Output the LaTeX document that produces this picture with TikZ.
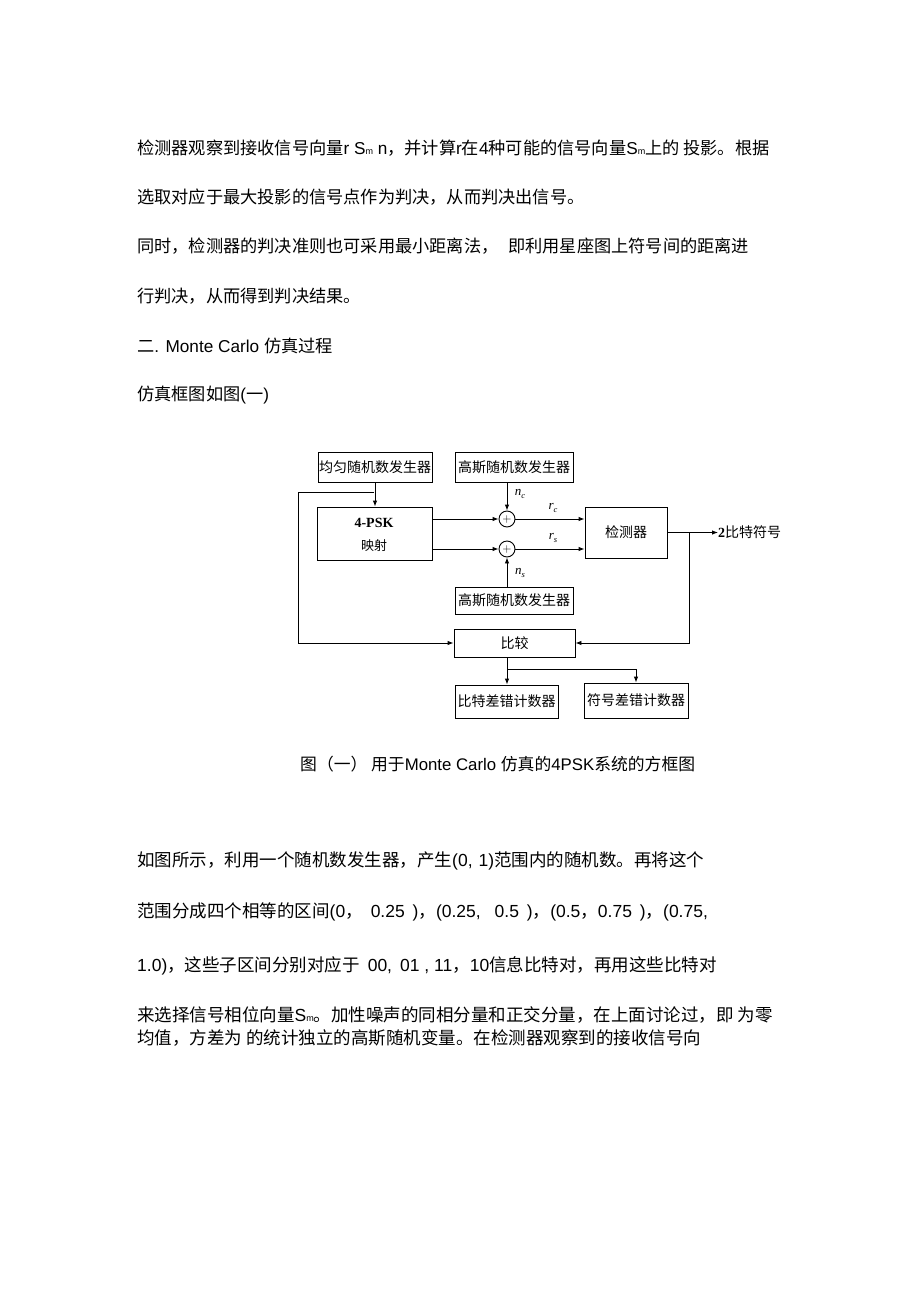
\documentclass[tikz,border=0pt]{standalone}
\usepackage{fontspec}
\setmainfont{Liberation Sans}
\newfontfamily\cjk{Noto Sans CJK SC}
\newfontfamily\latf{Liberation Sans}
\newfontfamily\serf{Liberation Serif}
\usetikzlibrary{arrows.meta}
\newcommand\lt[1]{{\latf #1}}
\newcommand\sm{{\latf\fontsize{9}{9}\selectfont m}}
\newcommand\vsub[2]{{\serf\itshape\fontsize{13}{14}\selectfont #1\raisebox{-2.5pt}{\fontsize{8.5}{9}\selectfont #2}}}
\begin{document}
\begin{tikzpicture}[x=1pt,y=-1pt,
  body/.style={anchor=west,inner sep=0pt,font=\cjk\fontsize{17.2}{20}\selectfont},
  lbody/.style={anchor=west,inner sep=0pt,font=\cjk\fontsize{17.5}{20}\selectfont},
  blk/.style={draw,line width=0.9pt,inner sep=0pt,font=\cjk\fontsize{14}{16}\selectfont},
  sumc/.style={draw,circle,line width=0.9pt,minimum size=16pt,inner sep=0pt},
  arr/.style={line width=0.9pt,-{Latex[length=6pt,width=4.5pt]}},
  lab/.style={inner sep=0pt}]
\fill[white] (0,0) rectangle (920,1303);
\useasboundingbox (0,0) rectangle (920,1303);

% ---- upper text ----
\node[body] (t1) at (137,148) {检测器观察到接收信号向量\lt{r S}\sm\lt{ n}，并计算\lt{r}在\lt{4}种可能的信号向量\lt{S}\sm 上的 投影。根据};
\node[body] (t2) at (137,197) {选取对应于最大投影的信号点作为判决，从而判决出信号。};
\node[body] (t3) at (137,246) {同时，检测器的判决准则也可采用最小距离法，\hspace{10pt}即利用星座图上符号间的距离进};
\node[body] (t4) at (137,296) {行判决，从而得到判决结果。};
\node[body] (t5) at (137,346) {二\lt{. Monte Carlo }仿真过程};
\node[body] (t6) at (137,395) {仿真框图如图\lt{(}一\lt{)}};

% ---- diagram ----
\node[blk,minimum width=114pt,minimum height=30pt] (U) at (375,467) {均匀随机数发生器};
\node[blk,minimum width=118pt,minimum height=30pt] (G1) at (514,467) {高斯随机数发生器};
\node[blk,minimum width=115pt,minimum height=53pt] (P) at (374.5,533.5) {};
\node[inner sep=0pt,font=\serf\bfseries\fontsize{14}{16}\selectfont] (Pt) at (374,523) {4-PSK};
\node[inner sep=0pt,font=\cjk\fontsize{13}{15}\selectfont] (Pm) at (374,546) {映射};
\node[blk,minimum width=82pt,minimum height=51pt] (D) at (626,532.5) {检测器};
\node[blk,minimum width=118pt,minimum height=27pt] (G2) at (514,600.5) {高斯随机数发生器};
\node[blk,minimum width=121pt,minimum height=28pt] (C) at (514.5,643) {比较};
\node[blk,minimum width=103pt,minimum height=33pt] (B) at (506.5,701.5) {比特差错计数器};
\node[blk,minimum width=104pt,minimum height=35pt] (S) at (636,700.5) {符号差错计数器};
\node[sumc] (c1) at (507,519) {};
\node[sumc] (c2) at (507,549) {};
\node[inner sep=0pt,font=\fontsize{12}{12}\selectfont] at (c1) {$+$};
\node[inner sep=0pt,font=\fontsize{12}{12}\selectfont] at (c2) {$+$};
\node[anchor=west,inner sep=0pt,font=\cjk\fontsize{14}{16}\selectfont] (O) at (718,532.5) {{\serf\bfseries 2}比特符号};

\coordinate (fb) at (374,492);
\coordinate (fbL) at (298,492);
\coordinate (br) at (689,532.5);
\coordinate (cb) at (507,657);
\coordinate (cb2) at (507,669);

\draw[arr] (U.south) -- (U.south |- P.north);
\draw[arr] (fb) -- (fbL) |- (C.west);
\draw[arr] (c1 -| P.east) -- (c1.west);
\draw[arr] (c2 -| P.east) -- (c2.west);
\draw[arr] (c1.east) -- (c1 -| D.west);
\draw[arr] (c2.east) -- (c2 -| D.west);
\draw[arr] (c1 |- G1.south) -- (c1.north);
\draw[arr] (c2 |- G2.north) -- (c2.south);
\node[lab] (nc) at (520,494) {\vsub{n}{c}};
\node[lab] (rc) at (553,508) {\vsub{r}{c}};
\node[lab] (rs) at (553,538) {\vsub{r}{s}};
\node[lab] (ns) at (520,573) {\vsub{n}{s}};
\draw[arr] (D.east) -- (O.west);
\draw[arr] (br) |- (C.east);
\draw[arr] (cb) -- (cb |- B.north);
\draw[arr] (cb2) -| (S.north);

% ---- caption ----
\node[body,font=\cjk\fontsize{16.8}{20}\selectfont] (cap) at (300,764) {图（一） 用于\lt{Monte Carlo }仿真的\lt{4PSK}系统的方框图};

% ---- lower text ----
\node[lbody] (b1) at (137,861) {如图所示，利用一个随机数发生器，产生\lt{(0,\hspace{6pt}1)}范围内的随机数。再将这个};
\node[lbody] (b2) at (137,912) {范围分成四个相等的区间\lt{(0}，\lt{\hspace{8pt}0.25\hspace{3pt} )}，\lt{(0.25,\hspace{14pt}0.5\hspace{3pt} )}，\lt{(0.5}，\lt{0.75\hspace{3pt} )}，\lt{(0.75,}};
\node[lbody] (b3) at (137,966) {\lt{1.0)}，这些子区间分别对应于\hspace{4pt} \lt{00,\hspace{8pt}01 , 11}，\lt{10}信息比特对，再用这些比特对};
\node[lbody] (b4) at (137,1015) {来选择信号相位向量\lt{S}\sm。加性噪声的同相分量和正交分量，在上面讨论过，即 为零};
\node[lbody] (b5) at (137,1038) {均值，方差为 的统计独立的高斯随机变量。在检测器观察到的接收信号向};
\end{tikzpicture}
\end{document}
